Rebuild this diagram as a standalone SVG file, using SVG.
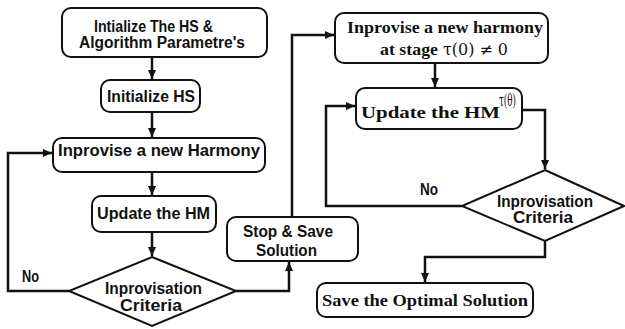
<svg xmlns="http://www.w3.org/2000/svg" width="625" height="329" viewBox="0 0 625 329">
<style>
.box{fill:#fff;stroke:#111;stroke-width:2}
.sans{font-family:"Liberation Sans",Arial,sans-serif;font-weight:bold;font-size:16px;fill:#111}
.serif{font-family:"Liberation Serif","Times New Roman",serif;font-weight:bold;font-size:17px;fill:#111}
.math{font-family:"DejaVu Serif","Liberation Serif",serif;font-size:16px;fill:#111}
.conn{fill:none;stroke:#111;stroke-width:2.5}
</style>
<defs>
<marker id="ah" markerUnits="userSpaceOnUse" markerWidth="10" markerHeight="10" refX="9" refY="5" orient="auto">
<path d="M0,1 L9,5 L0,9 Z" fill="#111"/>
</marker>
</defs>
<rect width="625" height="329" fill="#fff"/>
<g id="connectors">
<path class="conn" d="M152,57 V79" marker-end="url(#ah)"/>
<path class="conn" d="M152,112 V137" marker-end="url(#ah)"/>
<path class="conn" d="M152,172 V195" marker-end="url(#ah)"/>
<path class="conn" d="M152,232 V256" marker-end="url(#ah)"/>
<path class="conn" d="M69,291 H8 V153 H52" marker-end="url(#ah)"/>
<path class="conn" d="M236,291 H289 V262" marker-end="url(#ah)"/>
<path class="conn" d="M292,217 V35 H334" marker-end="url(#ah)"/>
<path class="conn" d="M435,63 V87" marker-end="url(#ah)"/>
<path class="conn" d="M522,110 H545 V169" marker-end="url(#ah)"/>
<path class="conn" d="M462,206 H326 V106 H355" marker-end="url(#ah)"/>
<path class="conn" d="M545,241 V257 H425 V282" marker-end="url(#ah)"/>
<text class="sans" x="22" y="282" textLength="17" lengthAdjust="spacingAndGlyphs">No</text>
<text class="sans" x="420" y="195" textLength="18" lengthAdjust="spacingAndGlyphs">No</text>
</g>
<g id="init-params">
<rect class="box" x="62" y="8" width="205" height="49" rx="9"/>
<text class="sans" x="94" y="32" textLength="119" lengthAdjust="spacingAndGlyphs">Intialize The HS &amp;</text>
<text class="sans" x="79" y="48" textLength="166" lengthAdjust="spacingAndGlyphs">Algorithm Parametre's</text>
</g>
<g id="init-hs">
<rect class="box" x="101" y="80" width="99" height="32" rx="9"/>
<text class="sans" x="107" y="102" textLength="88" lengthAdjust="spacingAndGlyphs">Initialize HS</text>
</g>
<g id="improvise">
<rect class="box" x="53" y="138" width="212" height="34" rx="9"/>
<text class="sans" x="58" y="156" textLength="202" lengthAdjust="spacingAndGlyphs">Inprovise a new Harmony</text>
</g>
<g id="update-hm">
<rect class="box" x="92" y="196" width="124" height="36" rx="9"/>
<text class="sans" x="97" y="219" textLength="113" lengthAdjust="spacingAndGlyphs">Update the HM</text>
</g>
<g id="criteria1">
<polygon class="box" points="152,257 236,291 152,326 69,291"/>
<text class="sans" x="105" y="294" textLength="97" lengthAdjust="spacingAndGlyphs">Inprovisation</text>
<text class="sans" x="120" y="311" textLength="62" lengthAdjust="spacingAndGlyphs">Criteria</text>
</g>
<g id="stop-save">
<rect class="box" x="227" y="217" width="131" height="44" rx="9"/>
<text class="sans" x="243" y="237" textLength="90" lengthAdjust="spacingAndGlyphs">Stop &amp; Save</text>
<text class="sans" x="256" y="256" textLength="61" lengthAdjust="spacingAndGlyphs">Solution</text>
</g>
<g id="improvise-stage">
<rect class="box" x="335" y="13" width="213" height="50" rx="9"/>
<text class="serif" x="347" y="33" textLength="196" lengthAdjust="spacingAndGlyphs">Inprovise a new harmony</text>
<text class="serif" x="380" y="55" textLength="58" lengthAdjust="spacingAndGlyphs">at stage</text>
<text class="math" x="443" y="55" textLength="65" lengthAdjust="spacingAndGlyphs">τ(0) ≠ 0</text>
</g>
<g id="update-hm-tau">
<rect class="box" x="356" y="88" width="166" height="41" rx="9"/>
<text class="serif" x="361" y="118" textLength="139" lengthAdjust="spacingAndGlyphs">Update the HM</text>
<text class="math" x="499" y="106" font-size="13" textLength="17" lengthAdjust="spacingAndGlyphs">τ(θ)</text>
</g>
<g id="criteria2">
<polygon class="box" points="545,170 624,206 545,241 462,206"/>
<text class="sans" x="497" y="207" textLength="96" lengthAdjust="spacingAndGlyphs">Inprovisation</text>
<text class="sans" x="513" y="223" textLength="60" lengthAdjust="spacingAndGlyphs">Criteria</text>
</g>
<g id="save-optimal">
<rect class="box" x="317" y="283" width="216" height="34" rx="9"/>
<text class="serif" x="322" y="306" textLength="206" lengthAdjust="spacingAndGlyphs">Save the Optimal Solution</text>
</g>
</svg>
